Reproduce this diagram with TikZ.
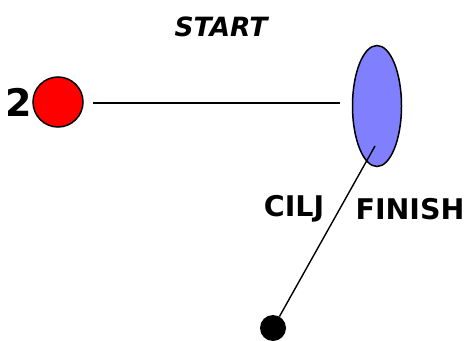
\documentclass[tikz,border=0pt]{standalone}
\usepackage{fontspec}
\setmainfont{DejaVu Sans}
\usetikzlibrary{shapes.geometric}
\definecolor{lavblue}{RGB}{128,128,255}
\begin{document}
\begin{tikzpicture}[x=1pt,y=-1pt,
  lbl/.style={font=\bfseries\fontsize{28.5}{30}\selectfont, inner sep=0},
  edge/.style={line width=1.4pt}]
\useasboundingbox (0,0) rectangle (471,340);
\node[circle, draw, line width=1.5pt, fill=red, minimum size=50, inner sep=0] (r) at (58,102) {};
\node[lbl, font=\bfseries\fontsize{38}{40}\selectfont] (two) at (19,102) {2};
\node[ellipse, draw, line width=1.5pt, fill=lavblue, minimum width=49, minimum height=121, inner sep=0] (e) at (377,106) {};
\node[lbl, font=\bfseries\itshape\fontsize{26.5}{28}\selectfont] (start) at (221,27) {START};
\node[lbl] (cilj) at (294,209) {CILJ};
\node[lbl] (finish) at (410,209) {FINISH};
\node[circle, fill=black, minimum size=26, inner sep=0] (d) at (273,328) {};
\coordinate (h1) at (93,103);
\coordinate (h2) at (340,103);
\coordinate (s) at (375,146);
\draw[edge] (h1) -- (h2);
\draw[edge] (s) -- (d);
\end{tikzpicture}
\end{document}
